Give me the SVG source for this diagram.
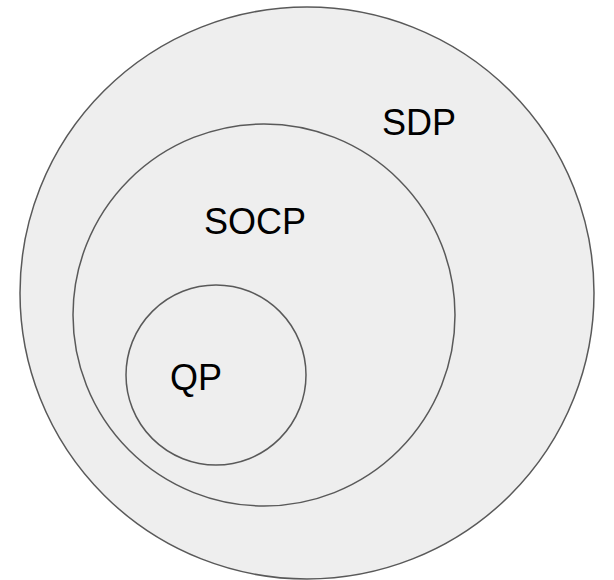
<svg xmlns="http://www.w3.org/2000/svg" width="614" height="580" viewBox="0 0 614 580">
<style>
.c{fill:#eeeeee;stroke:#595959;stroke-width:1.5}
.t{font-family:"Liberation Sans",Arial,sans-serif;font-size:36px;fill:#000}
</style>
<rect width="614" height="580" fill="#fff"/>
<g id="sdp"><ellipse class="c" cx="307" cy="293" rx="287" ry="286"/><text class="t" x="382" y="135">SDP</text></g>
<g id="socp"><ellipse class="c" cx="264" cy="315" rx="191" ry="191"/><text class="t" x="204" y="234">SOCP</text></g>
<g id="qp"><ellipse class="c" cx="216" cy="375" rx="90" ry="90"/><text class="t" x="170" y="390">QP</text></g>
</svg>
